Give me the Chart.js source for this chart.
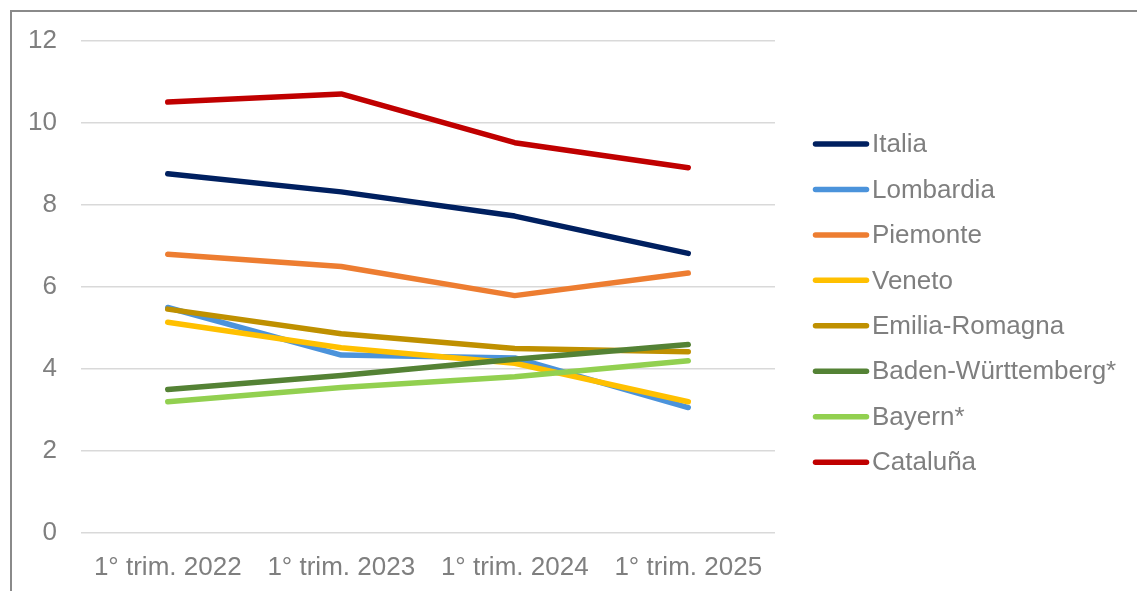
<!DOCTYPE html>
<html lang="it">
<head>
<meta charset="utf-8">
<title>Tasso di disoccupazione</title>
<script src="https://cdn.jsdelivr.net/npm/chart.js@4.4.1/dist/chart.umd.min.js"></script>
<style>
  html, body { margin: 0; padding: 0; background: #ffffff; overflow: hidden; }
  #wrap { position: relative; width: 1137px; height: 591px; }
  #chart { position: absolute; left: 0; top: 0; }
  #frame {
    position: absolute; left: 10px; top: 10px; width: 1200px; height: 700px;
    border-left: 2px solid #8a8a8a; border-top: 2px solid #8a8a8a;
    pointer-events: none;
  }
</style>
</head>
<body>
<div id="wrap">
  <canvas id="chart" width="1137" height="591"></canvas>
  <div id="frame"></div>
</div>
<script>
// Categories (quarters)
const categories = ['1° trim. 2022', '1° trim. 2023', '1° trim. 2024', '1° trim. 2025'];

// Series values (%)
const italia        = [8.76, 8.32, 7.73, 6.82];
const lombardia     = [5.50, 4.34, 4.27, 3.06];
const piemonte      = [6.80, 6.50, 5.79, 6.34];
const veneto        = [5.14, 4.52, 4.14, 3.20];
const emiliaRomagna = [5.46, 4.86, 4.50, 4.42];
const badenWurttemberg = [3.50, 3.84, 4.24, 4.60];
const bayern        = [3.20, 3.55, 3.81, 4.20];
const cataluna      = [10.51, 10.71, 9.52, 8.91];

// Y-axis ticks
const yTicks = [0, 2, 4, 6, 8, 10, 12];

const seriesLabels = ['Italia', 'Lombardia', 'Piemonte', 'Veneto', 'Emilia-Romagna',
                      'Baden-Württemberg*', 'Bayern*', 'Cataluña'];
const seriesValues = [italia, lombardia, piemonte, veneto, emiliaRomagna,
                      badenWurttemberg, bayern, cataluna];
const seriesColors = ['#002060', '#4b93db', '#ed7d31', '#ffc000', '#bf9000',
                      '#548235', '#92d050', '#c00000'];

const FONT = '"Liberation Sans", Arial, Helvetica, sans-serif';
const TEXT_COLOR = '#7f7f7f';

const datasets = seriesLabels.map((label, i) => ({
  label,
  data: seriesValues[i],
  borderColor: seriesColors[i],
  backgroundColor: seriesColors[i],
  borderWidth: 5.5,
  borderCapStyle: 'round',
  borderJoinStyle: 'round',
  pointRadius: 0,
  pointHoverRadius: 0,
  tension: 0,
  fill: false,
  // later series are painted over earlier ones
  order: seriesLabels.length - i
}));

// Legend on the right: short line sample followed by the series name
const sideLegend = {
  id: 'sideLegend',
  afterDraw(chart, args, opts) {
    const { ctx, chartArea } = chart;
    const x0 = chartArea.right + opts.offsetX;
    ctx.save();
    ctx.font = opts.fontSize + 'px ' + FONT;
    ctx.textBaseline = 'middle';
    ctx.textAlign = 'left';
    chart.data.datasets.forEach((ds, i) => {
      const y = opts.top + i * opts.rowGap;
      ctx.strokeStyle = ds.borderColor;
      ctx.lineWidth = ds.borderWidth;
      ctx.lineCap = 'round';
      ctx.beginPath();
      ctx.moveTo(x0, y);
      ctx.lineTo(x0 + opts.lineLength, y);
      ctx.stroke();
      ctx.fillStyle = TEXT_COLOR;
      ctx.fillText(ds.label, x0 + opts.lineLength + opts.gap, y + 1);
    });
    ctx.restore();
  }
};

new Chart(document.getElementById('chart'), {
  type: 'line',
  data: { labels: categories, datasets },
  plugins: [sideLegend],
  options: {
    responsive: false,
    animation: false,
    events: [],
    layout: { padding: { left: 28, right: 362, top: 41, bottom: 11 } },
    plugins: {
      legend: { display: false },
      tooltip: { enabled: false },
      title: { display: false },
      sideLegend: { offsetX: 40.5, top: 144, rowGap: 45.45, lineLength: 51, gap: 5.5, fontSize: 26 }
    },
    scales: {
      x: {
        offset: true,
        grid: { display: false, drawTicks: false },
        border: { display: false },
        ticks: {
          color: TEXT_COLOR,
          font: { family: FONT, size: 26 },
          padding: 19,
          maxRotation: 0,
          autoSkip: false
        },
        afterFit: (scale) => {
          scale.height = 47;
          scale.paddingLeft = 0;
          scale.paddingRight = 0;
        }
      },
      y: {
        min: yTicks[0],
        max: yTicks[yTicks.length - 1],
        afterBuildTicks: (scale) => { scale.ticks = yTicks.map(v => ({ value: v })); },
        grid: { color: '#d9d9d9', lineWidth: 1.5, drawTicks: false },
        border: { display: false },
        ticks: {
          color: TEXT_COLOR,
          font: { family: FONT, size: 26 },
          padding: 24
        },
        afterFit: (scale) => { scale.width = 53; }
      }
    }
  }
});
</script>
</body>
</html>
